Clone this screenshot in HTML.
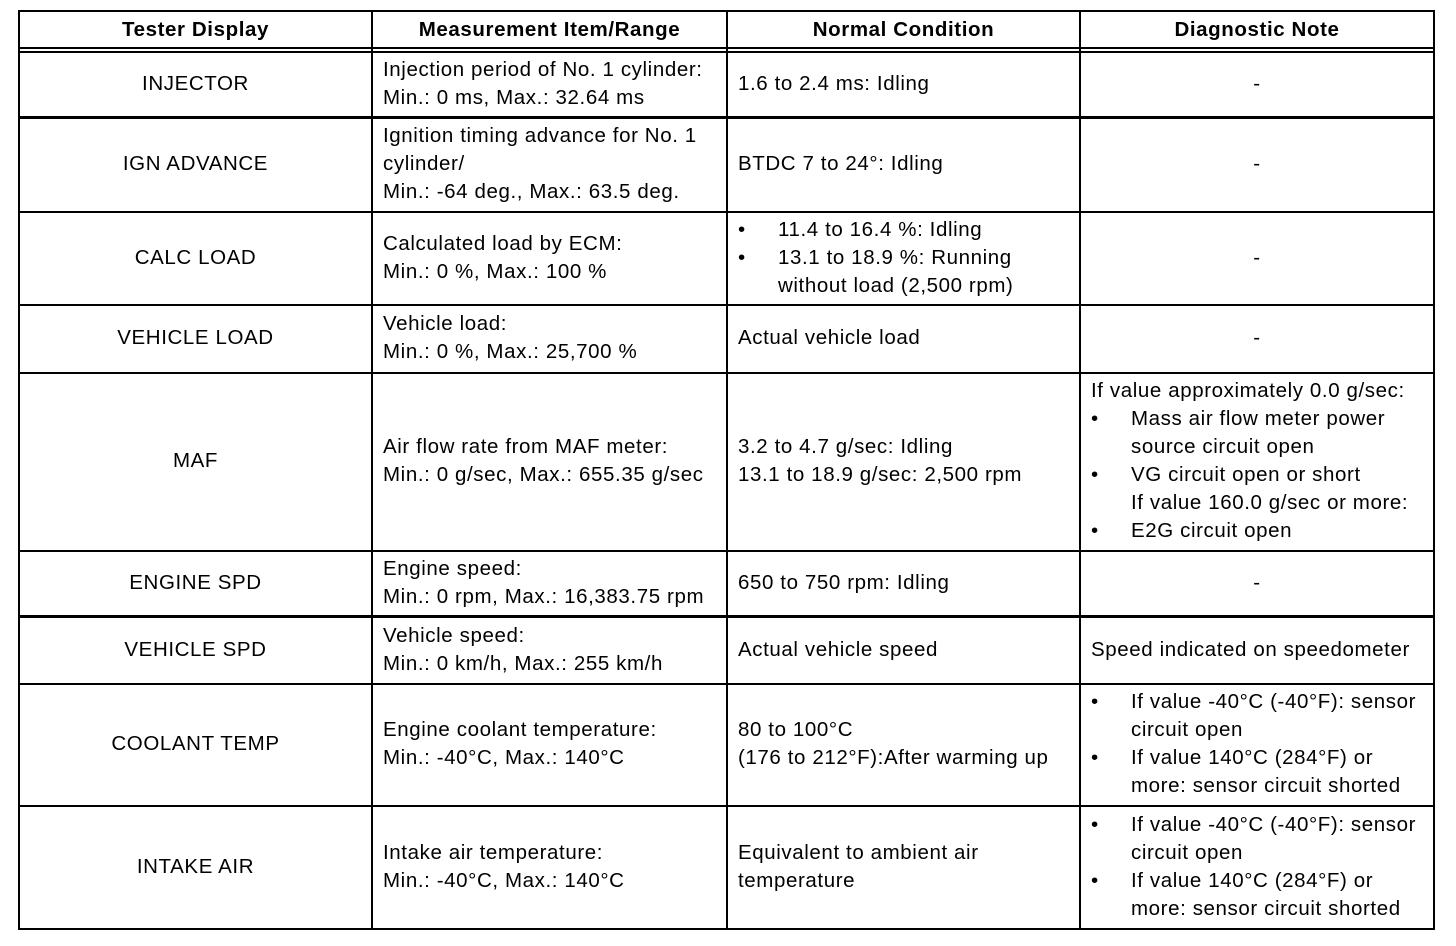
<!DOCTYPE html>
<html><head><style>
body{margin:0;background:#fff;width:1456px;height:946px;position:relative;overflow:hidden;font-family:"Liberation Sans",Arial,sans-serif;font-size:20.5px;letter-spacing:0.6px;color:#000;}
.h{position:absolute;left:18px;width:1417px;height:2px;background:#000}
.v{position:absolute;top:11px;height:919px;width:2px;background:#000}
.c{position:absolute;display:flex;flex-direction:column;justify-content:center;line-height:28px;box-sizing:border-box;padding-left:10px;white-space:nowrap}
.ctr{align-items:center;padding-left:0}
.b{font-weight:bold}
.li{position:relative;padding-left:40px}
.li:before{content:"•";position:absolute;left:0}
.in{padding-left:40px}
</style></head><body>
<div class="h" style="top:10px"></div>
<div class="h" style="top:47px"></div>
<div class="h" style="top:51px"></div>
<div class="h" style="top:116px;height:3px"></div>
<div class="h" style="top:211px"></div>
<div class="h" style="top:304px"></div>
<div class="h" style="top:372px"></div>
<div class="h" style="top:550px"></div>
<div class="h" style="top:615px;height:3px"></div>
<div class="h" style="top:683px"></div>
<div class="h" style="top:805px"></div>
<div class="h" style="top:928px"></div>
<div class="v" style="left:18px"></div>
<div class="v" style="left:371px"></div>
<div class="v" style="left:726px"></div>
<div class="v" style="left:1079px"></div>
<div class="v" style="left:1433px"></div>

<div class="c ctr b" style="left:20px;width:351px;top:12px;height:36px">Tester Display</div>
<div class="c ctr b" style="left:373px;width:353px;top:12px;height:36px">Measurement Item/Range</div>
<div class="c ctr b" style="left:728px;width:351px;top:12px;height:36px">Normal Condition</div>
<div class="c ctr b" style="left:1081px;width:352px;top:12px;height:36px">Diagnostic Note</div>

<div class="c ctr" style="left:20px;width:351px;top:52px;height:64px">INJECTOR</div>
<div class="c" style="left:373px;width:353px;top:52px;height:64px"><div>Injection period of No. 1 cylinder:</div><div>Min.: 0 ms, Max.: 32.64 ms</div></div>
<div class="c" style="left:728px;width:351px;top:52px;height:64px">1.6 to 2.4 ms: Idling</div>
<div class="c ctr" style="left:1081px;width:352px;top:52px;height:64px">-</div>

<div class="c ctr" style="left:20px;width:351px;top:118px;height:92px">IGN ADVANCE</div>
<div class="c" style="left:373px;width:353px;top:118px;height:92px"><div>Ignition timing advance for No. 1</div><div>cylinder/</div><div>Min.: -64 deg., Max.: 63.5 deg.</div></div>
<div class="c" style="left:728px;width:351px;top:118px;height:92px">BTDC 7 to 24°: Idling</div>
<div class="c ctr" style="left:1081px;width:352px;top:118px;height:92px">-</div>

<div class="c ctr" style="left:20px;width:351px;top:212px;height:91px">CALC LOAD</div>
<div class="c" style="left:373px;width:353px;top:212px;height:91px"><div>Calculated load by ECM:</div><div>Min.: 0 %, Max.: 100 %</div></div>
<div class="c" style="left:728px;width:351px;top:212px;height:91px"><div class="li">11.4 to 16.4 %: Idling</div><div class="li">13.1 to 18.9 %: Running</div><div class="in">without load (2,500 rpm)</div></div>
<div class="c ctr" style="left:1081px;width:352px;top:212px;height:91px">-</div>

<div class="c ctr" style="left:20px;width:351px;top:305px;height:66px">VEHICLE LOAD</div>
<div class="c" style="left:373px;width:353px;top:305px;height:66px"><div>Vehicle load:</div><div>Min.: 0 %, Max.: 25,700 %</div></div>
<div class="c" style="left:728px;width:351px;top:305px;height:66px">Actual vehicle load</div>
<div class="c ctr" style="left:1081px;width:352px;top:305px;height:66px">-</div>

<div class="c ctr" style="left:20px;width:351px;top:373px;height:176px">MAF</div>
<div class="c" style="left:373px;width:353px;top:373px;height:176px"><div>Air flow rate from MAF meter:</div><div>Min.: 0 g/sec, Max.: 655.35 g/sec</div></div>
<div class="c" style="left:728px;width:351px;top:373px;height:176px"><div>3.2 to 4.7 g/sec: Idling</div><div>13.1 to 18.9 g/sec: 2,500 rpm</div></div>
<div class="c" style="left:1081px;width:352px;top:373px;height:176px"><div>If value approximately 0.0 g/sec:</div><div class="li">Mass air flow meter power</div><div class="in">source circuit open</div><div class="li">VG circuit open or short</div><div class="in">If value 160.0 g/sec or more:</div><div class="li">E2G circuit open</div></div>

<div class="c ctr" style="left:20px;width:351px;top:551px;height:63px">ENGINE SPD</div>
<div class="c" style="left:373px;width:353px;top:551px;height:63px"><div>Engine speed:</div><div>Min.: 0 rpm, Max.: 16,383.75 rpm</div></div>
<div class="c" style="left:728px;width:351px;top:551px;height:63px">650 to 750 rpm: Idling</div>
<div class="c ctr" style="left:1081px;width:352px;top:551px;height:63px">-</div>

<div class="c ctr" style="left:20px;width:351px;top:617px;height:65px">VEHICLE SPD</div>
<div class="c" style="left:373px;width:353px;top:617px;height:65px"><div>Vehicle speed:</div><div>Min.: 0 km/h, Max.: 255 km/h</div></div>
<div class="c" style="left:728px;width:351px;top:617px;height:65px">Actual vehicle speed</div>
<div class="c" style="left:1081px;width:352px;top:617px;height:65px">Speed indicated on speedometer</div>

<div class="c ctr" style="left:20px;width:351px;top:684px;height:120px">COOLANT TEMP</div>
<div class="c" style="left:373px;width:353px;top:684px;height:120px"><div>Engine coolant temperature:</div><div>Min.: -40°C, Max.: 140°C</div></div>
<div class="c" style="left:728px;width:351px;top:684px;height:120px"><div>80 to 100°C</div><div>(176 to 212°F):After warming up</div></div>
<div class="c" style="left:1081px;width:352px;top:684px;height:120px"><div class="li">If value -40°C (-40°F): sensor</div><div class="in">circuit open</div><div class="li">If value 140°C (284°F) or</div><div class="in">more: sensor circuit shorted</div></div>

<div class="c ctr" style="left:20px;width:351px;top:806px;height:121px">INTAKE AIR</div>
<div class="c" style="left:373px;width:353px;top:806px;height:121px"><div>Intake air temperature:</div><div>Min.: -40°C, Max.: 140°C</div></div>
<div class="c" style="left:728px;width:351px;top:806px;height:121px"><div>Equivalent to ambient air</div><div>temperature</div></div>
<div class="c" style="left:1081px;width:352px;top:806px;height:121px"><div class="li">If value -40°C (-40°F): sensor</div><div class="in">circuit open</div><div class="li">If value 140°C (284°F) or</div><div class="in">more: sensor circuit shorted</div></div>
</body></html>
